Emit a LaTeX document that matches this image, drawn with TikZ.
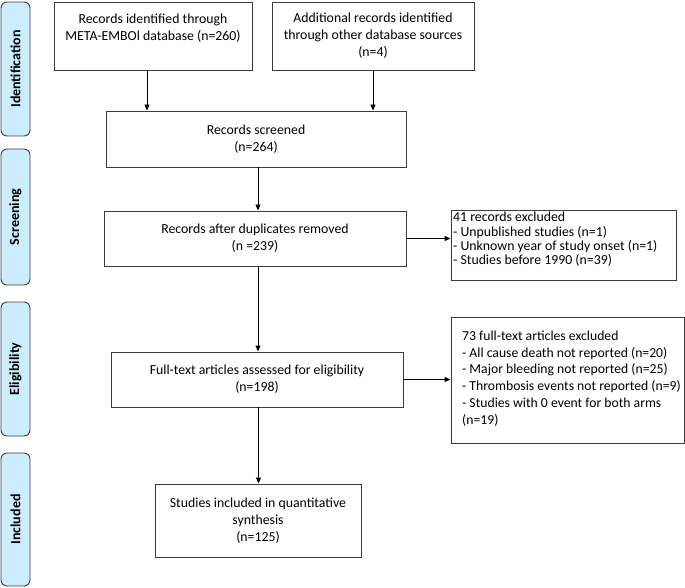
\documentclass[tikz,border=0pt]{standalone}
\usepackage{fontspec}
\setmainfont{Carlito}
\usetikzlibrary{arrows.meta}
\definecolor{barfill}{RGB}{204,236,255}
\definecolor{boxline}{RGB}{60,60,60}
\begin{document}
\begin{tikzpicture}[x=1pt,y=-1pt,
  box/.style={draw=boxline,line width=0.9pt,rectangle,inner sep=0pt,align=center,
    font=\fontsize{13.8}{17}\selectfont},
  bar/.style={draw=boxline,line width=0.9pt,fill=barfill,rounded corners=6pt,
    minimum width=29pt,inner sep=0pt},
  barlabel/.style={rotate=90,font=\fontsize{14}{14}\selectfont\bfseries},
  arr/.style={line width=0.9pt,-{Triangle[length=6pt,width=5pt]}}]
\useasboundingbox (0,0) rectangle (685,588);
% phase bars
\node[bar,minimum height=134pt] (pid) at (15.5,69) {};
\node[barlabel] (lid) at (pid.center) {Identification};
\node[bar,minimum height=136pt] (psc) at (15.5,217) {};
\node[barlabel] (lsc) at (psc.center) {Screening};
\node[bar,minimum height=134pt] (pel) at (15.5,369) {};
\node[barlabel] (lel) at (pel.center) {Eligibility};
\node[bar,minimum height=133pt] (pin) at (15.5,519.5) {};
\node[barlabel] (lin) at (pin.center) {Included};
% boxes
\node[box,minimum width=198pt,minimum height=68pt] (b1) at (153,36)
  {Records identified through\\META-EMBOl database (n=260)\\\mbox{}};
\node[box,minimum width=202pt,minimum height=68pt] (b2) at (373,36)
  {Additional records identified\\through other database sources\\(n=4)};
\node[box,minimum width=300pt,minimum height=56pt] (scr) at (256,139)
  {Records screened\\(n=264)};
\node[box,minimum width=302pt,minimum height=55pt] (dup) at (255,238.5)
  {Records after duplicates removed\\(n =239)};
\node[box,minimum width=225pt,minimum height=70pt] (ex1) at (563.5,245) {};
\node[anchor=north west,inner sep=0pt,align=left,font=\fontsize{13.8}{14.3}\selectfont]
  (ex1t) at (453,212) {41 records excluded\\- Unpublished studies (n=1)\\- Unknown year of study onset (n=1)\\- Studies before 1990 (n=39)};
\node[box,minimum width=233pt,minimum height=126pt] (ex2) at (567.5,380) {};
\node[anchor=north west,inner sep=0pt,align=left,font=\fontsize{13.7}{16.8}\selectfont]
  (ex2t) at (462,330.5) {73 full-text articles excluded\\- All cause death not reported (n=20)\\- Major bleeding not reported (n=25)\\- Thrombosis events not reported (n=9)\\- Studies with 0 event for both arms\\(n=19)};
\node[box,minimum width=292pt,minimum height=55pt] (ft) at (257,379.5)
  {Full-text articles assessed for eligibility\\(n=198)};
\node[box,minimum width=206pt,minimum height=73pt] (inc) at (258,520.5)
  {Studies included in quantitative\\synthesis\\(n=125)};
% connectors
\draw[arr] ([xshift=-6pt]b1.south) -- ([xshift=-6pt]b1.south |- scr.north);
\draw[arr] (b2.south) -- (b2.south |- scr.north);
\draw[arr] ([xshift=2pt]scr.south) -- ([xshift=2pt]scr.south |- dup.north);
\draw[arr] (dup.east) -- (dup.east -| ex1.west);
\draw[arr] ([xshift=3pt]dup.south) -- ([xshift=3pt]dup.south |- ft.north);
\draw[arr] (ft.east) -- (ft.east -| ex2.west);
\draw[arr] ([xshift=1.5pt]ft.south) -- ([xshift=1.5pt]ft.south |- inc.north);
\end{tikzpicture}
\end{document}
